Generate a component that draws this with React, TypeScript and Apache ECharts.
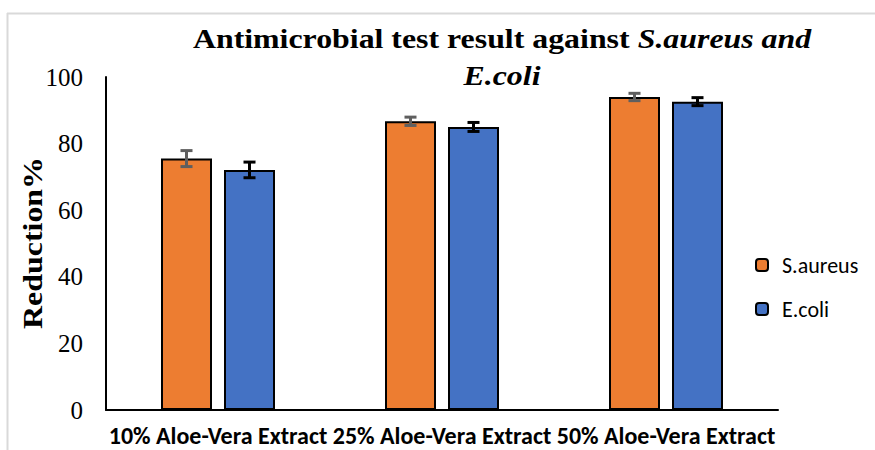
import React, { useEffect, useRef } from "react";
import * as echarts from "echarts";

const categories = ["10% Aloe-Vera Extract", "25% Aloe-Vera Extract", "50% Aloe-Vera Extract"];
const seriesNames = ["S.aureus", "E.coli"];
const saureusValues = [75.5, 86.7, 94.0];
const saureusErrors = [2.4, 1.25, 1.1];
const ecoliValues = [72.1, 85.0, 92.6];
const ecoliErrors = [2.35, 1.35, 1.2];
const yTicks = { min: 0, max: 100, interval: 20 };

const ORANGE = "#ED7D31";
const BLUE = "#4472C4";
const BAR_W = 51;
const GAP_PX = 12;

function errData(vals: number[], errs: number[]) {
  return vals.map((v, i) => [i, v - errs[i], v + errs[i]]);
}

function makeErrSeries(name: string, vals: number[], errs: number[], color: string, sign: number) {
  return {
    type: "custom",
    name: name + " err",
    z: 10,
    silent: true,
    data: errData(vals, errs),
    renderItem: (params: any, api: any) => {
      const cat = api.value(0);
      const lo = api.coord([cat, api.value(1)]);
      const hi = api.coord([cat, api.value(2)]);
      const x = lo[0] + sign * (BAR_W + GAP_PX) / 2;
      const half = 6;
      const st = { stroke: color, lineWidth: 3 };
      return {
        type: "group",
        children: [
          { type: "line", shape: { x1: x, y1: hi[1], x2: x, y2: lo[1] }, style: st },
          { type: "line", shape: { x1: x - half, y1: hi[1], x2: x + half, y2: hi[1] }, style: st },
          { type: "line", shape: { x1: x - half, y1: lo[1], x2: x + half, y2: lo[1] }, style: st },
        ],
      };
    },
  };
}

export default function App() {
  const ref = useRef<HTMLDivElement>(null);
  useEffect(() => {
    document.body.style.margin = "0";
    const chart = echarts.init(ref.current!, null, { renderer: "svg" });
    const serif = "'Liberation Serif', 'Times New Roman', serif";
    const sans = "Carlito, 'Open Sans', sans-serif";
    chart.setOption({
      animation: false,
      backgroundColor: "#ffffff",
      grid: { left: 106, right: 97, top: 77, bottom: 40, containLabel: false },
      legend: {
        orient: "vertical",
        left: 750,
        top: 248,
        itemWidth: 12,
        itemHeight: 12,
        itemGap: 20,
        data: seriesNames,
        textStyle: { fontFamily: sans, fontSize: 22, color: "#000", lineHeight: 24, padding: [0, 0, 0, 9] },
      },
      xAxis: {
        type: "category",
        data: categories,
        axisLine: { lineStyle: { color: "#000", width: 2 } },
        axisTick: { show: false },
        axisLabel: {
          interval: 0,
          margin: 13,
          fontFamily: sans,
          fontWeight: "bold",
          fontSize: 24,
          lineHeight: 24,
          color: "#000",
        },
      },
      yAxis: {
        type: "value",
        min: yTicks.min,
        max: yTicks.max,
        interval: yTicks.interval,
        axisLine: { show: true, lineStyle: { color: "#000", width: 2 } },
        axisTick: { show: false },
        splitLine: { show: false },
        axisLabel: { margin: 23, fontFamily: serif, fontSize: 25, color: "#000" },
      },
      series: [
        {
          type: "bar",
          name: seriesNames[0],
          data: saureusValues,
          barWidth: BAR_W,
          barGap: (GAP_PX / BAR_W) * 100 + "%",
          itemStyle: { color: ORANGE, borderColor: "#000", borderWidth: 2 },
        },
        {
          type: "bar",
          name: seriesNames[1],
          data: ecoliValues,
          barWidth: BAR_W,
          barGap: (GAP_PX / BAR_W) * 100 + "%",
          itemStyle: { color: BLUE, borderColor: "#000", borderWidth: 2 },
        },
        makeErrSeries(seriesNames[0], saureusValues, saureusErrors, "#5f5f5f", -1),
        makeErrSeries(seriesNames[1], ecoliValues, ecoliErrors, "#000000", 1),
      ],
      graphic: [
        { type: "line", shape: { x1: 7, y1: 13.5, x2: 875, y2: 13.5 }, style: { stroke: "#d9d9d9", lineWidth: 2 } },
        { type: "line", shape: { x1: 7.5, y1: 13, x2: 7.5, y2: 450 }, style: { stroke: "#d9d9d9", lineWidth: 2 } },
        {
          type: "text",
          x: 502,
          y: 20,
          scaleX: 1.18,
          style: {
            text: "{a|Antimicrobial test result against }{b|S.aureus and}\n{b|E.coli}",
            align: "center",
            verticalAlign: "top",
            rich: {
              a: { fontFamily: serif, fontWeight: "bold", fontSize: 27, lineHeight: 37, fill: "#000" },
              b: { fontFamily: serif, fontWeight: "bold", fontStyle: "italic", fontSize: 27, lineHeight: 37, fill: "#000" },
            },
          },
        },
        {
          type: "text",
          x: 32,
          y: 243,
          rotation: Math.PI / 2,
          scaleX: 1.14,
          style: {
            text: "Reduction%",
            align: "center",
            verticalAlign: "middle",
            fontFamily: serif,
            fontWeight: "bold",
            fontSize: 28,
            fill: "#000",
          },
        },
      ],
    });
    return () => chart.dispose();
  }, []);
  return <div ref={ref} style={{ position: "fixed", left: 0, top: 0, width: 875, height: 450 }} />;
}
